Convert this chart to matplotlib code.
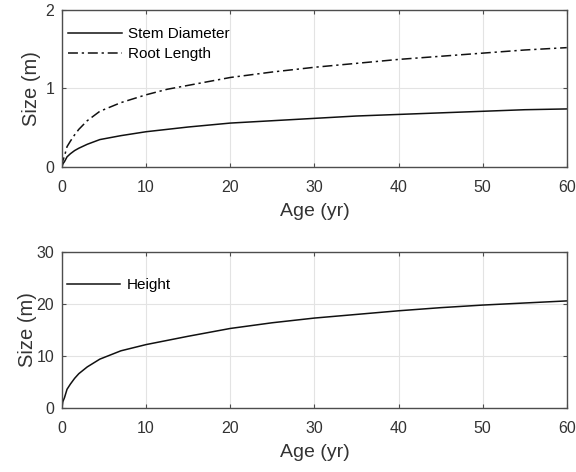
import matplotlib.pyplot as plt

plt.rcParams['font.family'] = ['Liberation Sans', 'DejaVu Sans']

# ages (yr)
age = [0, 0.1, 0.3, 0.6, 1, 1.5, 2, 3, 4.5, 7, 10, 12.5, 15, 20, 25, 30, 35, 40, 45, 50, 55, 60]
# sizes (m)
stem = [0, 0.04, 0.07, 0.13, 0.17, 0.21, 0.24, 0.29, 0.35, 0.40, 0.45, 0.48, 0.51,
        0.56, 0.59, 0.62, 0.65, 0.67, 0.69, 0.71, 0.73, 0.74]
root = [0, 0.08, 0.14, 0.26, 0.33, 0.41, 0.48, 0.59, 0.71, 0.82, 0.92, 0.99, 1.04,
        1.14, 1.21, 1.27, 1.32, 1.37, 1.41, 1.45, 1.49, 1.52]
height = [0, 1.2, 2.0, 3.6, 4.6, 5.7, 6.6, 7.9, 9.4, 11.0, 12.2, 13.0, 13.8,
          15.3, 16.4, 17.3, 18.0, 18.7, 19.3, 19.8, 20.2, 20.6]

AX_COL = '#4d4d4d'
TXT_COL = '#333333'
LN_COL = '#111111'


def style(ax, yticks, ylim, ylabelpad):
	ax.set_xlim(0, 60)
	ax.set_ylim(*ylim)
	ax.set_xticks([0, 10, 20, 30, 40, 50, 60])
	ax.set_yticks(yticks)
	ax.grid(True, color='#e3e3e3', linewidth=0.8)
	ax.set_axisbelow(True)
	ax.tick_params(direction='in', top=True, right=True, labelsize=11.5,
	               colors=AX_COL, labelcolor=TXT_COL, length=3)
	ax.tick_params(axis='x', pad=9.5)
	ax.tick_params(axis='y', pad=5.5)
	for s in ax.spines.values():
		s.set_color(AX_COL)
		s.set_linewidth(1.0)
	ax.set_xlabel('Age (yr)', fontsize=14, color=TXT_COL, labelpad=5.5)
	ax.set_ylabel('Size (m)', fontsize=14.5, color=TXT_COL, labelpad=ylabelpad)


fig = plt.figure(figsize=(5.76, 4.72), dpi=100)

ax1 = fig.add_axes([0.1076, 0.646, 0.8764, 0.333])
ax1.plot(age, stem, color=LN_COL, linewidth=1.1, label='Stem Diameter')
ax1.plot(age, root, color=LN_COL, linewidth=1.1, dashes=(6.5, 2.5, 1.5, 2.5),
         label='Root Length')
style(ax1, [0, 1, 2], (0, 2), 3.5)
ax1.legend(loc='upper left', bbox_to_anchor=(0, 0.93), frameon=False, fontsize=11,
           handlelength=3.5, borderaxespad=0, labelspacing=0.4, handletextpad=0.45)

ax2 = fig.add_axes([0.1076, 0.1356, 0.8764, 0.3304])
ax2.plot(age, height, color=LN_COL, linewidth=1.1, label='Height')
style(ax2, [0, 10, 20, 30], (0, 30), 0)
ax2.legend(loc='upper left', bbox_to_anchor=(-0.003, 0.872), frameon=False,
           fontsize=11, handlelength=3.5, borderaxespad=0, handletextpad=0.45)

fig.savefig('out.png', dpi=100)
